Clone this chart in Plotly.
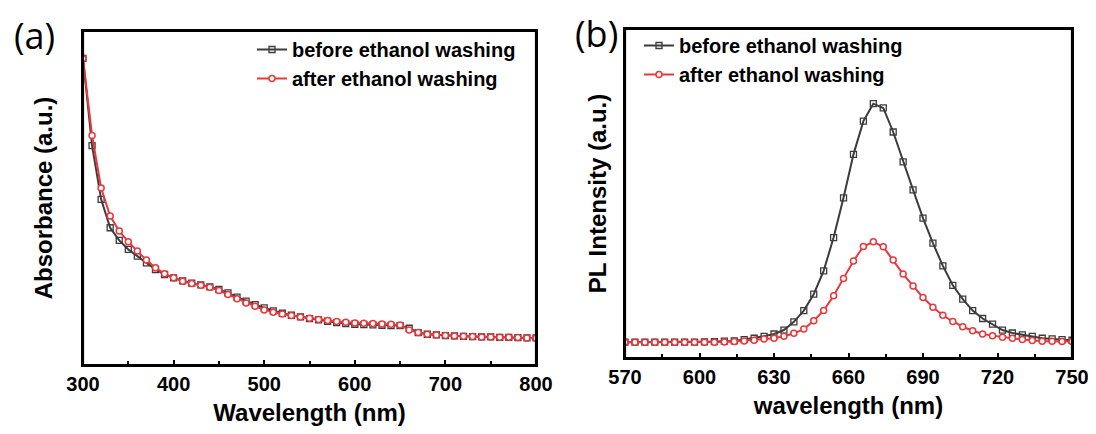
import plotly.graph_objects as go

# ---------- panel (a): absorbance ----------
abs_wavelength = list(range(300, 801, 10))
abs_before = [0.918, 0.657, 0.496, 0.411, 0.373, 0.346, 0.326, 0.306, 0.286, 0.271,
              0.261, 0.252, 0.245, 0.240, 0.234, 0.226, 0.216, 0.203, 0.191, 0.181,
              0.171, 0.162, 0.155, 0.149, 0.144, 0.139, 0.135, 0.131, 0.127, 0.124,
              0.122, 0.121, 0.120, 0.119, 0.118, 0.118, 0.110, 0.097, 0.092, 0.090,
              0.088, 0.087, 0.086, 0.085, 0.084, 0.084, 0.083, 0.083, 0.082, 0.081, 0.081]
abs_after = [0.918, 0.687, 0.530, 0.446, 0.401, 0.369, 0.341, 0.314, 0.291, 0.273,
             0.261, 0.251, 0.244, 0.239, 0.233, 0.223, 0.211, 0.198, 0.186, 0.176,
             0.165, 0.158, 0.153, 0.148, 0.144, 0.140, 0.136, 0.133, 0.130, 0.128,
             0.126, 0.125, 0.124, 0.123, 0.122, 0.120, 0.105, 0.097, 0.092, 0.090,
             0.088, 0.087, 0.086, 0.085, 0.084, 0.084, 0.083, 0.083, 0.082, 0.081, 0.081]

# ---------- panel (b): PL ----------
pl_wavelength = list(range(570, 751, 4))
pl_before = [0.048, 0.048, 0.048, 0.048, 0.048, 0.048, 0.048, 0.048, 0.049, 0.050,
             0.051, 0.052, 0.056, 0.060, 0.066, 0.073, 0.085, 0.110, 0.144, 0.194,
             0.265, 0.366, 0.487, 0.619, 0.720, 0.773, 0.760, 0.687, 0.596, 0.511,
             0.425, 0.349, 0.280, 0.221, 0.179, 0.144, 0.120, 0.103, 0.085, 0.076,
             0.070, 0.066, 0.060, 0.058, 0.056, 0.054]
pl_after = [0.0475, 0.0475, 0.0475, 0.0475, 0.0475, 0.0475, 0.0475, 0.0475, 0.0475, 0.048,
            0.049, 0.050, 0.052, 0.054, 0.058, 0.060, 0.066, 0.075, 0.088, 0.113,
            0.144, 0.189, 0.242, 0.295, 0.339, 0.353, 0.338, 0.298, 0.255, 0.219,
            0.184, 0.154, 0.130, 0.111, 0.095, 0.083, 0.073, 0.068, 0.063, 0.060,
            0.056, 0.053, 0.051, 0.051, 0.050, 0.050]

series_names = ["before ethanol washing", "after ethanol washing"]
abs_ticks = [300, 400, 500, 600, 700, 800]
pl_ticks = [570, 600, 630, 660, 690, 720, 750]
abs_range = [300, 800]
pl_range = [570, 750]
y_range = [0, 1]

BLACK = "#3c3c3c"
RED = "#e8383d"
FONT = "Liberation Sans"

# the page body adds an 8 px offset; lay out in screen pixels and compensate
OFF = 8
W, H = 1096, 434
def px(x):
    return (x - OFF) / W
def py(y):
    return 1 - (y - OFF) / H

fig = go.Figure()

def add_frame(xr, xa, ya_ax):
    # plot frame drawn as an outline around the axis ranges
    fig.add_trace(go.Scatter(
        x=[xr[0], xr[1], xr[1], xr[0], xr[0]],
        y=[y_range[0], y_range[0], y_range[1], y_range[1], y_range[0]],
        mode="lines", line=dict(color="black", width=2.2),
        showlegend=False, hoverinfo="skip", cliponaxis=False,
        xaxis=xa, yaxis=ya_ax))

def add_pair(x, yb, ya, xa, ya_ax, legend):
    fig.add_trace(go.Scatter(
        x=x, y=yb, name=series_names[0], mode="lines+markers",
        line=dict(color=BLACK, width=2),
        marker=dict(symbol="square-open", size=6, color=BLACK, line=dict(width=1.3)),
        xaxis=xa, yaxis=ya_ax, legend=legend))
    fig.add_trace(go.Scatter(
        x=x, y=ya, name=series_names[1], mode="lines+markers",
        line=dict(color=RED, width=2),
        marker=dict(symbol="circle", size=6, color="white",
                    line=dict(color=RED, width=1.5)),
        xaxis=xa, yaxis=ya_ax, legend=legend))

add_pair(abs_wavelength, abs_before, abs_after, "x", "y", "legend")
add_pair(pl_wavelength, pl_before, pl_after, "x2", "y2", "legend2")
add_frame(abs_range, "x", "y")
add_frame(pl_range, "x2", "y2")

tickfont = dict(family=FONT, size=20, color="black", weight="bold")
titlefont = dict(family=FONT, size=24, color="black", weight="bold")
legfont = dict(family=FONT, size=20, color="black", weight="bold")

common_x = dict(showline=True, linecolor="black", linewidth=2, mirror=True,
                ticks="inside", ticklen=5, tickwidth=1.5, tickcolor="black",
                showgrid=False, zeroline=False, tickfont=tickfont, automargin=False)
common_y = dict(showline=True, linecolor="black", linewidth=2, mirror=True,
                ticks="", showticklabels=False, showgrid=False, zeroline=False,
                range=y_range, automargin=False)

fig.update_layout(
    width=W, height=H,
    margin=dict(l=0, r=0, t=0, b=0, autoexpand=False),
    paper_bgcolor="white", plot_bgcolor="white",
    xaxis=dict(domain=[px(83), px(536)], range=abs_range, tickvals=abs_ticks,
               minor=dict(ticks="inside", ticklen=4, tickcolor="black", dtick=50, tick0=300),
               title=dict(text="Wavelength (nm)", font=titlefont, standoff=10),
               anchor="y", **common_x),
    yaxis=dict(domain=[py(365), py(31)], anchor="x",
               title=dict(text="Absorbance (a.u.)", font=titlefont, standoff=22),
               **common_y),
    xaxis2=dict(domain=[px(625), px(1072)], range=pl_range, tickvals=pl_ticks,
                minor=dict(ticks="inside", ticklen=4, tickcolor="black", dtick=15, tick0=570),
                title=dict(text="wavelength (nm)", font=titlefont, standoff=10),
                anchor="y2", **common_x),
    yaxis2=dict(domain=[py(358), py(29)], anchor="x2",
                title=dict(text="PL Intensity (a.u.)", font=titlefont, standoff=10),
                **common_y),
    legend=dict(x=px(252), y=py(30), xanchor="left", yanchor="top",
                bgcolor="rgba(0,0,0,0)", borderwidth=0, tracegroupgap=0, font=legfont),
    legend2=dict(x=px(639), y=py(26), xanchor="left", yanchor="top",
                 bgcolor="rgba(0,0,0,0)", borderwidth=0, tracegroupgap=0, font=legfont),
    annotations=[
        dict(text="(a)", x=px(34), y=py(36), xref="paper", yref="paper",
             xanchor="center", yanchor="middle",
             showarrow=False, font=dict(family="Open Sans", size=36, color="black")),
        dict(text="(b)", x=px(596), y=py(33), xref="paper", yref="paper",
             xanchor="center", yanchor="middle",
             showarrow=False, font=dict(family="Open Sans", size=36, color="black")),
    ],
)

fig.write_html("out.html")
